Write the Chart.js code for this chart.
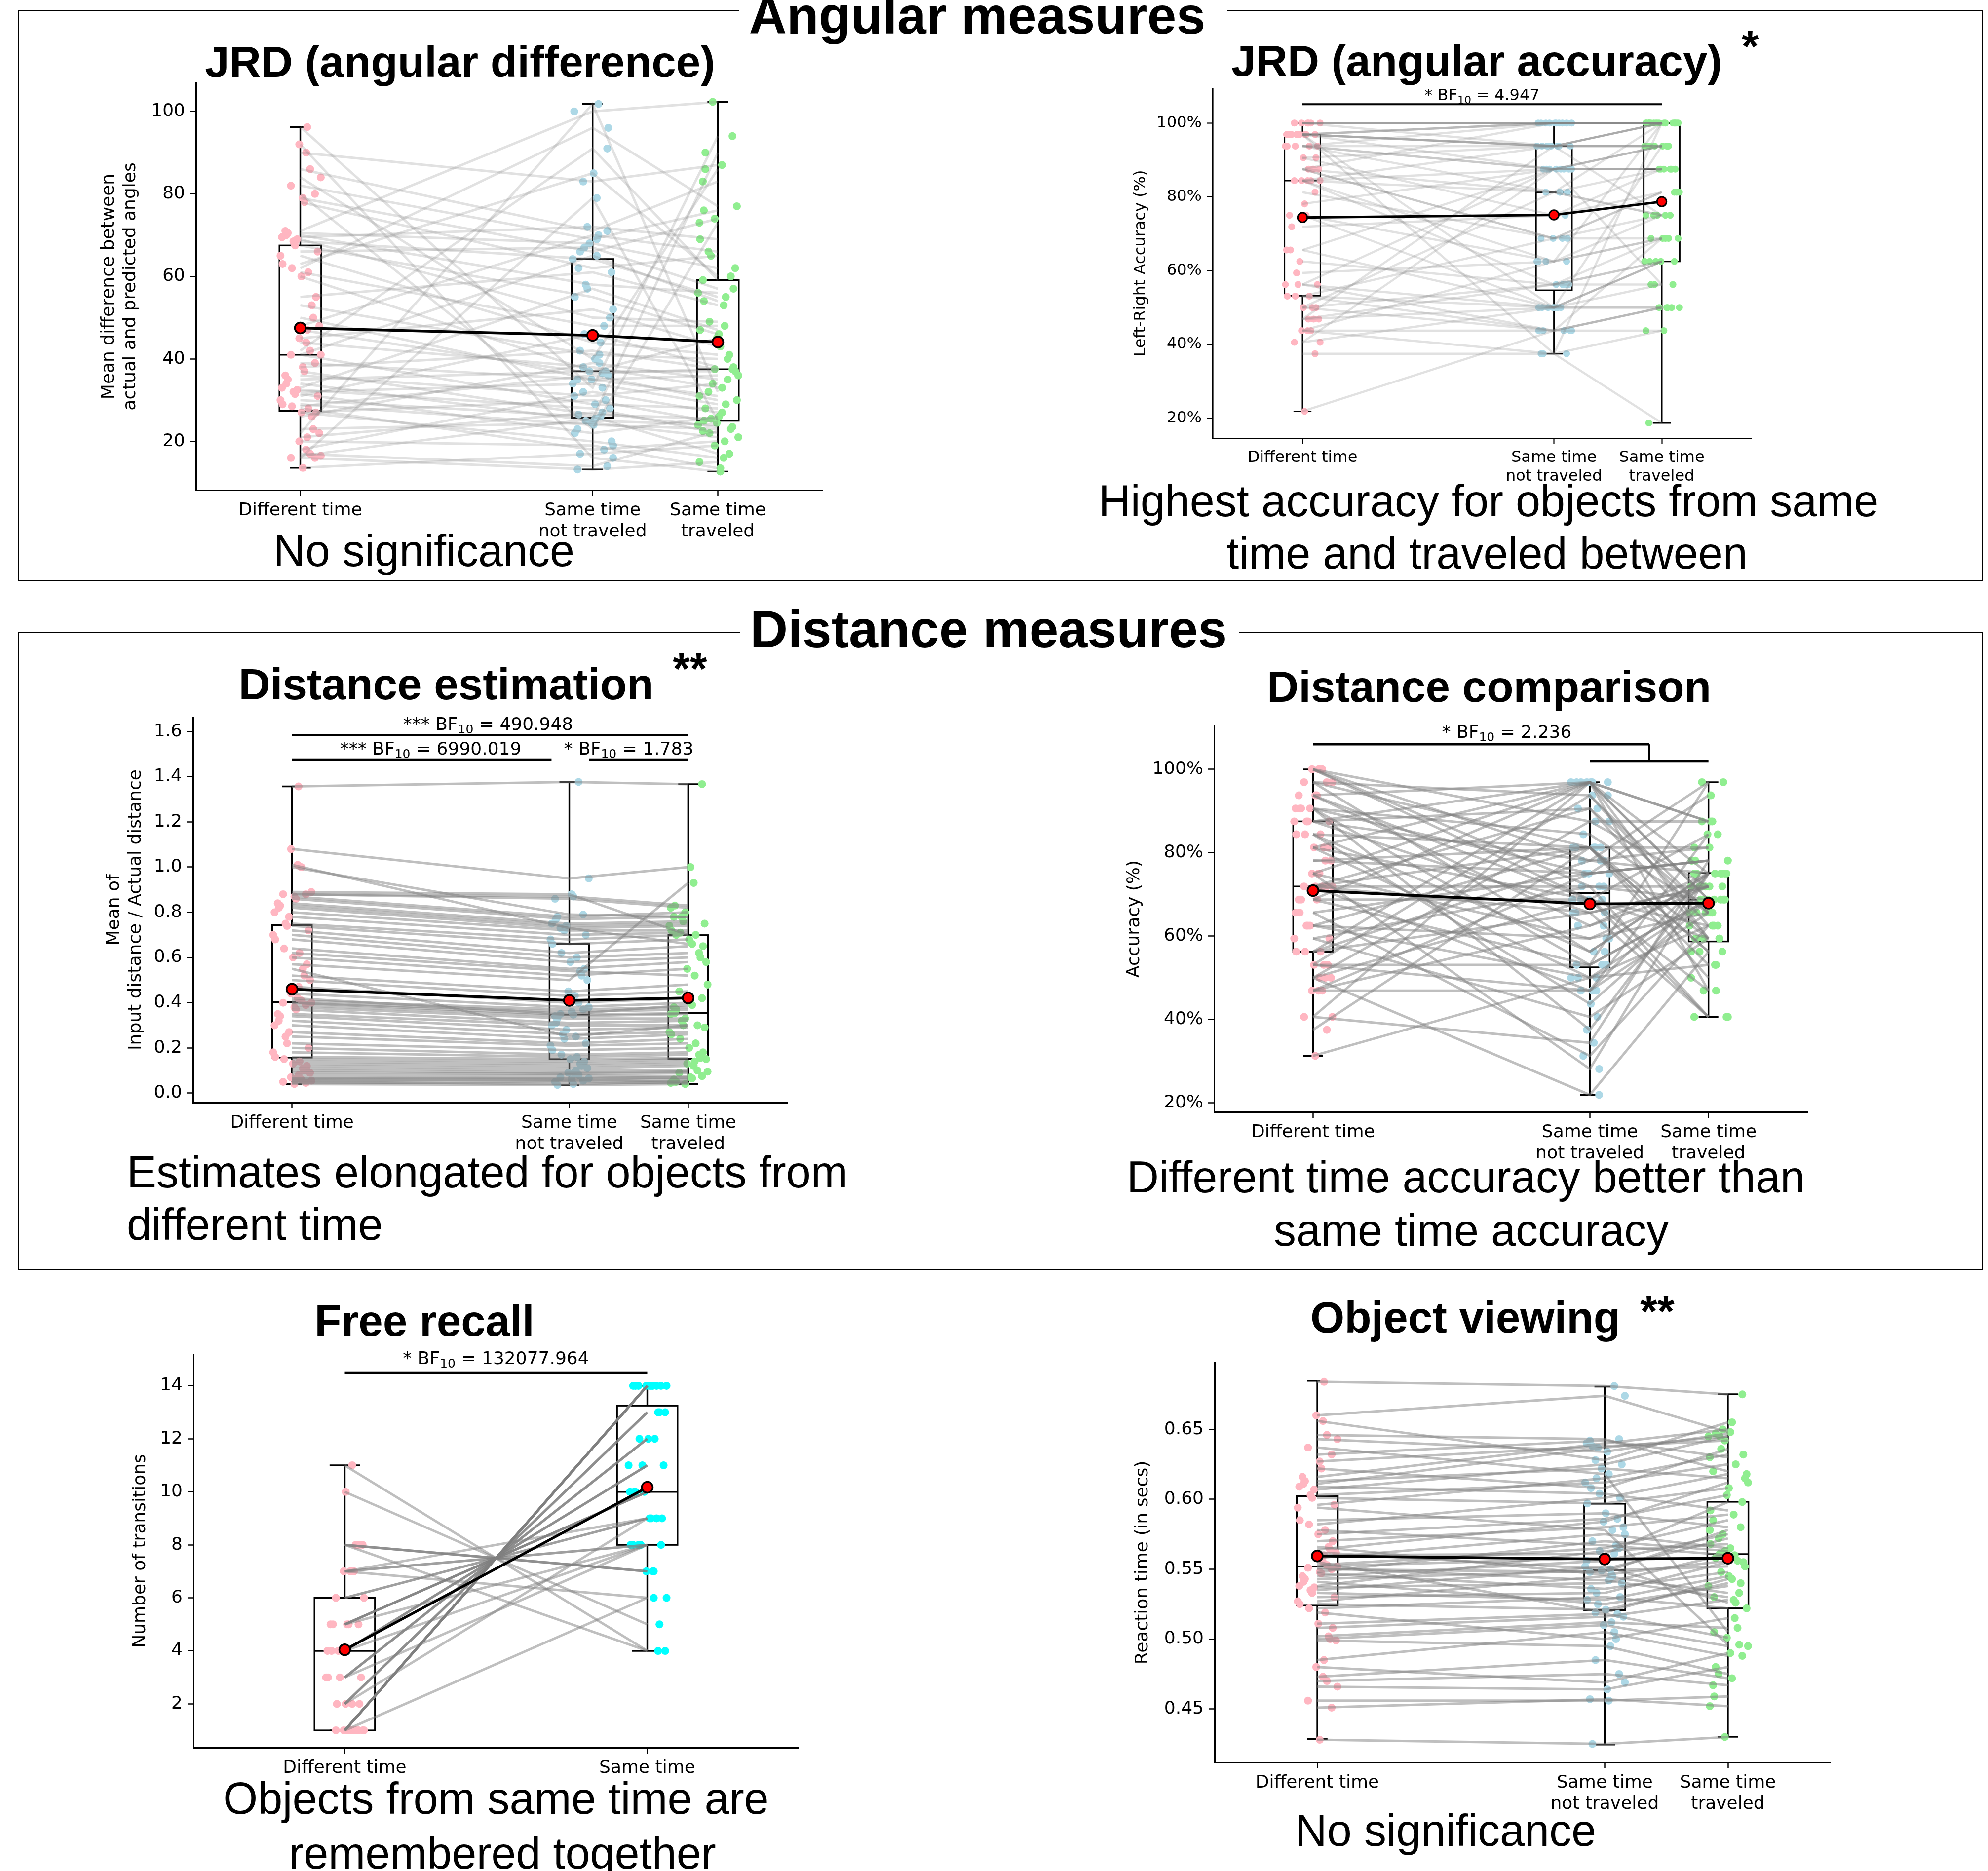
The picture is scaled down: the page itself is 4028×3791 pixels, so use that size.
<!DOCTYPE html>
<html lang="en">
<head>
<meta charset="UTF-8">
<title>Angular and distance measures</title>
<script src="https://cdn.jsdelivr.net/npm/chart.js"></script>
<style>
    html, body { margin: 0; padding: 0; background: #fff; }
    body { position: relative; width: 4028px; height: 3791px; overflow: hidden; }
    .frame { position: absolute; border: 2px solid #000; border-top: none; box-sizing: border-box; }
    .seg { position: absolute; height: 2px; background: #000; }
    .txt { position: absolute; white-space: nowrap; line-height: 1; color: #000;
           font-family: "Liberation Sans", Arial, sans-serif; }
    .plot { position: absolute; }
</style>
</head>
<body>

<!-- section frames, top edge split around the headings -->
<div class="frame" style="left:36px;top:22px;width:3982px;height:1155px"></div>
<div class="seg" style="left:36px;top:21px;width:1462px"></div>
<div class="seg" style="left:2487px;top:21px;width:1531px"></div>
<div class="frame" style="left:36px;top:1282px;width:3982px;height:1291px"></div>
<div class="seg" style="left:36px;top:1281px;width:1463px"></div>
<div class="seg" style="left:2511px;top:1281px;width:1507px"></div>

<script>
// ---------- data ----------
const CATS3 = [['Different time'], ['Same time', 'not traveled'], ['Same time', 'traveled']];
const CATS2 = [['Different time'], ['Same time']];

// JRD angular difference (deg), one entry per participant
const jrdDiffDT = [13.6, 16, 16, 16.5, 17, 18, 20, 21, 22, 23, 26, 27, 27, 28, 28.5, 29, 30, 31, 31.5, 32, 32.5, 33, 34, 35, 36, 37, 38, 39, 41, 41, 42, 44, 45, 47, 48, 50, 53, 55, 60, 61, 62, 63, 65, 66, 67.5, 68.5, 69, 69.5, 70, 70.5, 71, 78, 79, 80, 82, 84, 86, 90, 92, 96.2];
const jrdDiffNT = [17, 13.2, 79, 25.5, 14, 32, 19, 27, 101.8, 24.5, 39, 20, 30, 18, 36, 24, 26, 46, 22, 34, 28, 57, 25, 37, 31, 26.5, 42, 35, 65, 29, 91, 38, 52, 36.5, 70, 35, 41, 61, 37, 48, 96, 85, 44, 67, 55, 64.2, 50, 72, 58, 68, 100, 62, 66, 23, 69, 40, 71, 83, 16, 33];
const jrdDiffTR = [19, 15, 25, 90, 22.5, 27, 13.5, 23.5, 32, 21, 35, 16, 24.5, 20, 30, 23, 17, 38, 26, 29, 22, 47, 24, 37, 34, 25.5, 37.5, 31, 54, 28, 59.1, 33, 43, 37.5, 66, 36, 40, 53, 45, 48, 77, 60, 41, 57, 46, 55, 49, 69, 56, 62, 102.3, 65, 74, 73, 76, 86, 83, 87, 12.7, 94];
const jrdDiffBox = [[13.6, 27.4, 41.0, 67.5, 96.2], [13.2, 25.7, 37.0, 64.2, 101.8], [12.7, 25.0, 37.5, 59.1, 102.3]];
const jrdDiffMean = [47.5, 45.7, 44.1];
const jrdDiffTicks = [20, 40, 60, 80, 100];

// JRD left-right accuracy (%)
const jrdAccDT = [21.9, 37.5, 40.6, 40.6, 43.75, 43.75, 43.75, 46.9, 46.9, 46.9, 50, 50, 50, 53.1, 53.1, 53.1, 56.25, 56.25, 56.25, 59.4, 62.5, 65.6, 65.6, 71.9, 75, 75, 78.1, 81.25, 84.4, 84.4, 84.4, 84.4, 84.4, 87.5, 87.5, 87.5, 87.5, 90.6, 90.6, 93.75, 93.75, 93.75, 93.75, 93.75, 96.9, 96.9, 96.9, 96.9, 96.9, 96.9, 96.9, 96.9, 96.9, 96.9, 100, 100, 100, 100, 100, 100];
const jrdAccNT = [43.75, 37.5, 50, 87.5, 37.5, 62.5, 43.75, 56.25, 93.75, 50, 81.25, 43.75, 56.25, 43.75, 68.75, 50, 50, 87.5, 43.75, 62.5, 56.25, 87.5, 50, 75, 62.5, 50, 87.5, 68.75, 93.75, 56.25, 62.5, 81.25, 87.5, 68.75, 100, 68.75, 81.25, 93.75, 75, 87.5, 81.25, 100, 87.5, 93.75, 50, 93.75, 87.5, 100, 93.75, 93.75, 100, 93.75, 37.5, 100, 93.75, 100, 100, 100, 100, 100];
const jrdAccTR = [50, 43.75, 62.5, 56.25, 18.75, 68.75, 43.75, 62.5, 75, 50, 75, 50, 62.5, 50, 68.75, 56.25, 50, 87.5, 68.75, 68.75, 56.25, 93.75, 62.5, 81.25, 75, 62.5, 87.5, 75, 93.75, 68.75, 100, 75, 87.5, 81.25, 100, 81.25, 87.5, 93.75, 87.5, 93.75, 100, 100, 87.5, 100, 93.75, 93.75, 93.75, 100, 93.75, 100, 100, 100, 100, 100, 100, 100, 100, 100, 100, 100];
const jrdAccBox = [[21.9, 53.2, 84.4, 96.9, 100], [37.5, 54.7, 81.25, 93.75, 100], [18.75, 62.5, 87.5, 100, 100]];
const jrdAccMean = [74.4, 75.1, 78.7];
const jrdAccTicks = [20, 40, 60, 80, 100];
const jrdAccBF = ['*', '4.947'];

// distance estimation (input / actual)
const distEstDT = [0.04, 0.045, 0.05, 0.055, 0.06, 0.065, 0.07, 0.08, 0.09, 0.10, 0.11, 0.12, 0.13, 0.14, 0.15, 0.16, 0.18, 0.20, 0.22, 0.25, 0.27, 0.30, 0.32, 0.34, 0.35, 0.37, 0.38, 0.39, 0.40, 0.40, 0.41, 0.42, 0.44, 0.47, 0.50, 0.52, 0.55, 0.57, 0.60, 0.62, 0.64, 0.68, 0.70, 0.72, 0.74, 0.75, 0.78, 0.80, 0.82, 0.83, 0.84, 0.86, 0.87, 0.88, 0.88, 0.89, 1.00, 1.01, 1.08, 1.357];
const distEstNT = [0.036, 0.05, 0.04, 0.06, 0.055, 0.07, 0.065, 0.08, 0.085, 0.09, 0.10, 0.11, 0.12, 0.13, 0.14, 0.15, 0.16, 0.17, 0.19, 0.21, 0.22, 0.24, 0.26, 0.28, 0.30, 0.31, 0.33, 0.34, 0.347, 0.36, 0.37, 0.35, 0.38, 0.40, 0.43, 0.45, 0.25, 0.50, 0.52, 0.54, 0.55, 0.58, 0.60, 0.62, 0.66, 0.68, 0.70, 0.72, 0.73, 0.74, 0.75, 0.77, 0.78, 0.86, 0.87, 0.88, 0.79, 0.73, 0.95, 1.377];
const distEstTR = [0.04, 0.045, 0.05, 0.05, 0.06, 0.065, 0.07, 0.075, 0.09, 0.095, 0.10, 0.12, 0.13, 0.14, 0.15, 0.155, 0.17, 0.18, 0.20, 0.22, 0.24, 0.26, 0.27, 0.29, 0.30, 0.32, 0.33, 0.35, 0.354, 0.37, 0.38, 0.39, 0.40, 0.42, 0.45, 0.48, 0.30, 0.93, 0.55, 0.52, 0.58, 0.60, 0.62, 0.65, 0.68, 0.70, 0.71, 0.72, 0.74, 0.75, 0.76, 0.78, 0.80, 0.82, 0.83, 0.70, 0.78, 0.66, 1.00, 1.367];
const distEstBox = [[0.040, 0.157, 0.403, 0.743, 1.357], [0.036, 0.150, 0.347, 0.660, 1.377], [0.040, 0.151, 0.354, 0.699, 1.367]];
const distEstMean = [0.460, 0.410, 0.421];
const distEstTicks = [0, 0.2, 0.4, 0.6, 0.8, 1.0, 1.2, 1.4, 1.6];
const distEstBF = [['***', '490.948'], ['***', '6990.019'], ['*', '1.783']];

// distance comparison accuracy (%)
const distCmpDT = [31.25, 37.5, 40.6, 40.6, 46.9, 46.9, 46.9, 50, 50, 50, 53.1, 53.1, 53.1, 56.25, 56.25, 56.25, 59.4, 59.4, 62.5, 62.5, 62.5, 65.6, 65.6, 68.75, 68.75, 68.75, 71.9, 71.9, 71.9, 71.9, 71.9, 75, 75, 75, 78.1, 78.1, 81.25, 81.25, 81.25, 84.4, 84.4, 84.4, 87.5, 87.5, 87.5, 87.5, 90.6, 90.6, 90.6, 90.6, 93.75, 93.75, 93.75, 96.9, 96.9, 96.9, 100, 100, 100, 100];
const distCmpNT = [50, 81.25, 34.4, 96.9, 62.5, 46.9, 75, 21.9, 87.5, 68.75, 46.9, 93.75, 53.1, 78.1, 65.6, 96.9, 40.6, 71.9, 81.25, 50, 59.4, 75, 31.25, 96.9, 68.75, 53.1, 90.6, 65.6, 81.25, 46.9, 71.9, 96.9, 59.4, 28.1, 81.25, 75, 50, 96.9, 68.75, 81.25, 56.25, 43.75, 90.6, 78.1, 65.6, 96.9, 53.1, 75, 84.4, 37.5, 68.75, 96.9, 62.5, 81.25, 56.25, 93.75, 78.1, 68.75, 87.5, 71.9];
const distCmpTR = [68.75, 50, 78.1, 59.4, 75, 65.6, 93.75, 56.25, 71.9, 40.6, 84.4, 62.5, 68.75, 75, 40.6, 75, 59.4, 68.75, 81.25, 53.1, 71.9, 78.1, 62.5, 68.75, 46.9, 96.9, 65.6, 71.9, 59.4, 75, 40.6, 87.5, 65.6, 75, 56.25, 78.1, 62.5, 68.75, 84.4, 53.1, 75, 68.75, 59.4, 96.9, 71.9, 46.9, 68.75, 78.1, 65.6, 75, 59.4, 87.5, 71.9, 56.25, 75, 65.6, 81.25, 62.5, 87.5, 71.9];
const distCmpBox = [[31.25, 56.25, 71.9, 87.5, 100], [21.9, 52.5, 70.3, 81.25, 96.9], [40.6, 58.7, 68.75, 75.1, 96.9]];
const distCmpMean = [70.9, 67.7, 67.9];
const distCmpTicks = [20, 40, 60, 80, 100];
const distCmpBF = ['*', '2.236'];

// free recall, number of transitions
const freeDT = [1, 1, 1, 1, 1, 1, 1, 1, 1, 1, 1, 2, 2, 2, 2, 3, 3, 3, 3, 4, 4, 4, 4, 5, 5, 5, 5, 5, 6, 6, 7, 7, 7, 7, 8, 8, 8, 8, 10, 11];
const freeSame = [14, 14, 14, 14, 14, 14, 14, 14, 14, 14, 6, 13, 13, 13, 9, 12, 12, 12, 8, 11, 11, 11, 8, 10, 10, 10, 10, 8, 9, 9, 8, 8, 6, 9, 7, 7, 7, 4, 5, 4];
const freeBox = [[1, 1, 4, 6, 11], [4, 8, 10, 13.25, 14]];
const freeMean = [4.04, 10.17];
const freeTicks = [2, 4, 6, 8, 10, 12, 14];
const freeBF = ['*', '132077.964'];

// object viewing reaction time (s)
const viewDT = [0.428, 0.451, 0.456, 0.466, 0.470, 0.473, 0.480, 0.485, 0.499, 0.500, 0.502, 0.508, 0.511, 0.519, 0.522, 0.525, 0.527, 0.530, 0.533, 0.535, 0.537, 0.538, 0.541, 0.543, 0.545, 0.547, 0.548, 0.550, 0.551, 0.552, 0.553, 0.555, 0.558, 0.560, 0.562, 0.564, 0.566, 0.570, 0.575, 0.578, 0.582, 0.585, 0.594, 0.596, 0.601, 0.603, 0.607, 0.609, 0.611, 0.613, 0.616, 0.622, 0.627, 0.632, 0.637, 0.643, 0.646, 0.656, 0.660, 0.684];
const viewNT = [0.425, 0.457, 0.456, 0.464, 0.475, 0.485, 0.469, 0.505, 0.495, 0.510, 0.512, 0.516, 0.518, 0.500, 0.530, 0.521, 0.545, 0.533, 0.528, 0.552, 0.540, 0.563, 0.525, 0.549, 0.556, 0.536, 0.570, 0.548, 0.542, 0.558, 0.565, 0.519, 0.575, 0.561, 0.550, 0.584, 0.546, 0.580, 0.586, 0.567, 0.601, 0.590, 0.578, 0.615, 0.597, 0.612, 0.625, 0.604, 0.637, 0.622, 0.640, 0.608, 0.638, 0.642, 0.618, 0.634, 0.643, 0.628, 0.674, 0.681];
const viewTR = [0.430, 0.452, 0.459, 0.480, 0.467, 0.472, 0.490, 0.488, 0.475, 0.495, 0.508, 0.528, 0.501, 0.515, 0.522, 0.540, 0.533, 0.555, 0.545, 0.526, 0.561, 0.568, 0.538, 0.552, 0.575, 0.548, 0.563, 0.578, 0.530, 0.558, 0.585, 0.543, 0.565, 0.598, 0.572, 0.612, 0.556, 0.589, 0.603, 0.560, 0.618, 0.580, 0.496, 0.632, 0.608, 0.625, 0.645, 0.592, 0.645, 0.615, 0.650, 0.636, 0.642, 0.630, 0.505, 0.647, 0.620, 0.655, 0.648, 0.675];
const viewBox = [[0.4285, 0.524, 0.552, 0.6023, 0.6847], [0.4246, 0.5207, 0.5493, 0.5968, 0.6806], [0.4301, 0.522, 0.5608, 0.5982, 0.6751]];
const viewMean = [0.5594, 0.5572, 0.5578];
const viewTicks = [0.45, 0.50, 0.55, 0.60, 0.65];

// ---------- styling / layout ----------
Chart.defaults.font.family = "'DejaVu Sans', sans-serif";
Chart.defaults.color = '#000';

const POS3 = [0, 1.4, 2.0];
const POS2 = [0, 1];
const COL3 = ['#ffb6c1', '#add8e6', '#90ee90'];
const COL2 = ['#ffb6c1', '#00ffff'];
// horizontal jitter of the strip points (fraction of spread)
const JIT = [0.12, -0.85, 0.47, -0.33, 0.91, -0.6, 0.05, 0.7, -0.95, 0.28, -0.15, 0.62, -0.72,
             0.38, -0.45, 0.83, -0.05, -0.88, 0.55, 0.2, -0.4, 0.98, -0.25, 0.33, -0.67, 0.75];

const pct = v => v + '%';

const panels = [
    { area: [397, 168, 1666, 993], pos: POS3, xr: [-0.5, 2.5], cats: CATS3, colors: COL3,
      series: [jrdDiffDT, jrdDiffNT, jrdDiffTR], box: jrdDiffBox, means: jrdDiffMean,
      yr: [8.2, 106.9], yticks: jrdDiffTicks, fmt: v => v,
      ytitle: ['Mean difference between', 'actual and predicted angles'], ytx: 221,
      lineColor: 'rgba(128,128,128,0.24)', spread: 0.1, font: 36, k: 1, brackets: [] },
    { area: [2457, 179, 3549, 888], pos: POS3, xr: [-0.5, 2.5], cats: CATS3, colors: COL3,
      series: [jrdAccDT, jrdAccNT, jrdAccTR], box: jrdAccBox, means: jrdAccMean,
      yr: [14.6, 109.4], yticks: jrdAccTicks, fmt: pct,
      ytitle: 'Left-Right Accuracy (%)', ytx: 2312,
      lineColor: 'rgba(128,128,128,0.24)', spread: 0.1, font: 32, k: 0.88,
      brackets: [{ segs: [[0, 105.1, 2, 105.1]], tx: 1.0, ty: 105.1, dy: 8, bf: jrdAccBF }] },
    { area: [391, 1453, 1595, 2234], pos: POS3, xr: [-0.5, 2.5], cats: CATS3, colors: COL3,
      series: [distEstDT, distEstNT, distEstTR], box: distEstBox, means: distEstMean,
      yr: [-0.042, 1.664], yticks: distEstTicks, fmt: v => v.toFixed(1),
      ytitle: ['Mean of', 'Input distance / Actual distance'], ytx: 232,
      lineColor: 'rgba(128,128,128,0.5)', spread: 0.1, font: 36, k: 1,
      brackets: [
          { segs: [[0, 1.585, 2, 1.585]], tx: 0.99, ty: 1.585, dy: 10, bf: distEstBF[0] },
          { segs: [[0, 1.476, 1.31, 1.476]], tx: 0.70, ty: 1.476, dy: 10, bf: distEstBF[1] },
          { segs: [[1.5, 1.476, 2, 1.476]], tx: 1.70, ty: 1.476, dy: 10, bf: distEstBF[2] }] },
    { area: [2460, 1471, 3662, 2253], pos: POS3, xr: [-0.5, 2.5], cats: CATS3, colors: COL3,
      series: [distCmpDT, distCmpNT, distCmpTR], box: distCmpBox, means: distCmpMean,
      yr: [17.8, 110.4], yticks: distCmpTicks, fmt: pct,
      ytitle: 'Accuracy (%)', ytx: 2299,
      lineColor: 'rgba(128,128,128,0.5)', spread: 0.1, font: 36, k: 1,
      brackets: [{ segs: [[0, 106, 1.7, 106], [1.7, 106, 1.7, 102], [1.4, 102, 2, 102]],
                   tx: 0.98, ty: 106, dy: 13, bf: distCmpBF }] },
    { area: [392, 2744, 1618, 3541], pos: POS2, xr: [-0.5, 1.5], cats: CATS2, colors: COL2,
      series: [freeDT, freeSame], box: freeBox, means: freeMean,
      yr: [0.35, 15.19], yticks: freeTicks, fmt: v => v,
      ytitle: 'Number of transitions', ytx: 285,
      lineColor: 'rgba(128,128,128,0.5)', spread: 0.065, font: 36, k: 1,
      brackets: [{ segs: [[0, 14.5, 1, 14.5]], tx: 0.5, ty: 14.5, dy: 17, bf: freeBF }] },
    { area: [2461, 2761, 3709, 3571], pos: POS3, xr: [-0.5, 2.5], cats: CATS3, colors: COL3,
      series: [viewDT, viewNT, viewTR], box: viewBox, means: viewMean,
      yr: [0.4118, 0.6977], yticks: viewTicks, fmt: v => v.toFixed(2),
      ytitle: 'Reaction time (in secs)', ytx: 2316,
      lineColor: 'rgba(128,128,128,0.5)', spread: 0.1, font: 36, k: 1, brackets: [] }
];

// box plots drawn through the chart scales, below the data
function boxPlugin(p) {
    return {
        id: 'boxes',
        beforeDatasetsDraw(chart) {
            const { ctx, scales: { x, y } } = chart;
            ctx.save();
            ctx.strokeStyle = '#000';
            ctx.lineWidth = 3.4 * p.k;
            const seg = (x1, y1, x2, y2) => { ctx.beginPath(); ctx.moveTo(x1, y1); ctx.lineTo(x2, y2); ctx.stroke(); };
            p.box.forEach((s, i) => {
                const c = p.pos[i];
                const xl = x.getPixelForValue(c - 0.1), xr = x.getPixelForValue(c + 0.1);
                const cl = x.getPixelForValue(c - 0.05), cr = x.getPixelForValue(c + 0.05);
                const xc = x.getPixelForValue(c);
                const [lo, q1, med, q3, hi] = s.map(v => y.getPixelForValue(v));
                seg(xc, q1, xc, lo);
                seg(xc, q3, xc, hi);
                seg(cl, lo, cr, lo);
                seg(cl, hi, cr, hi);
                ctx.strokeRect(xl, q3, xr - xl, q1 - q3);
                seg(xl, med, xr, med);
            });
            ctx.restore();
        }
    };
}

// significance brackets with Bayes factor text
function bracketPlugin(p) {
    return {
        id: 'brackets',
        afterDatasetsDraw(chart) {
            const { ctx, scales: { x, y } } = chart;
            const size = p.font;
            ctx.save();
            ctx.strokeStyle = '#000';
            ctx.fillStyle = '#000';
            ctx.lineWidth = 4.5 * p.k;
            p.brackets.forEach(b => {
                b.segs.forEach(s => {
                    ctx.beginPath();
                    ctx.moveTo(x.getPixelForValue(s[0]), y.getPixelForValue(s[1]));
                    ctx.lineTo(x.getPixelForValue(s[2]), y.getPixelForValue(s[3]));
                    ctx.stroke();
                });
                const main = size + "px 'DejaVu Sans'";
                const sub = Math.round(size * 0.7) + "px 'DejaVu Sans'";
                const a = b.bf[0] + ' BF', n = '10', c = ' = ' + b.bf[1];
                ctx.font = main;
                const wa = ctx.measureText(a).width, wc = ctx.measureText(c).width;
                ctx.font = sub;
                const wn = ctx.measureText(n).width;
                let tx = x.getPixelForValue(b.tx) - (wa + wn + wc) / 2;
                const base = y.getPixelForValue(b.ty) - b.dy;
                ctx.textAlign = 'left';
                ctx.textBaseline = 'alphabetic';
                ctx.font = main; ctx.fillText(a, tx, base); tx += wa;
                ctx.font = sub; ctx.fillText(n, tx, base + size * 0.2); tx += wn;
                ctx.font = main; ctx.fillText(c, tx, base);
            });
            ctx.restore();
        }
    };
}

function makePanel(p) {
    const [L, T, R, B] = p.area;
    const YW = 260, XH = 130, PT = 80, PR = 60;
    const cl = L - YW, ct = T - PT, cw = R + PR - cl, ch = B + XH - ct;
    const holder = document.createElement('div');
    holder.className = 'plot';
    holder.style.left = cl + 'px';
    holder.style.top = ct + 'px';
    const cv = document.createElement('canvas');
    cv.width = cw; cv.height = ch;
    cv.style.width = cw + 'px'; cv.style.height = ch + 'px';
    holder.appendChild(cv);
    document.body.appendChild(holder);

    const k = p.k;
    const datasets = [];
    // group means on top
    datasets.push({
        data: p.pos.map((x, i) => ({ x, y: p.means[i] })),
        showLine: true, borderColor: '#000', borderWidth: 5.5 * k,
        pointRadius: 11 * k, pointBackgroundColor: '#ff0000', pointBorderColor: '#000',
        pointBorderWidth: 3.5 * k, order: 0
    });
    // one grey line per participant
    const n = p.series[0].length;
    for (let i = 0; i < n; i++) {
        datasets.push({
            data: p.series.map((s, j) => ({ x: p.pos[j], y: s[i] })),
            showLine: true, borderColor: p.lineColor, borderWidth: 5 * k,
            pointRadius: 0, order: 1
        });
    }
    // jittered strip points
    p.series.forEach((s, j) => {
        datasets.push({
            data: s.map((v, i) => ({ x: p.pos[j] + JIT[(i * 7 + j * 5) % JIT.length] * p.spread, y: v })),
            pointRadius: 8 * k, pointBackgroundColor: p.colors[j], pointBorderWidth: 0,
            showLine: false, order: 2
        });
    });

    const axisGrid = { display: true, drawOnChartArea: false, drawTicks: true, tickLength: 12,
                       tickWidth: 2.5 * k, color: '#000' };
    const tfont = p.font;
    new Chart(cv, {
        type: 'scatter',
        data: { datasets },
        options: {
            responsive: false,
            animation: false,
            events: [],
            layout: { padding: { top: PT, right: PR, left: 0, bottom: 0 } },
            plugins: { legend: { display: false }, tooltip: { enabled: false } },
            scales: {
                x: {
                    type: 'linear', min: p.xr[0], max: p.xr[1],
                    afterBuildTicks: s => { s.ticks = p.pos.map(v => ({ value: v })); },
                    afterFit: s => { s.height = XH; },
                    ticks: { autoSkip: false, maxRotation: 0, minRotation: 0, padding: 8,
                             font: { size: p.font }, color: '#000',
                             callback: (v, i) => p.cats[i] },
                    grid: axisGrid,
                    border: { display: true, color: '#000', width: 3 * k }
                },
                y: {
                    type: 'linear', min: p.yr[0], max: p.yr[1],
                    afterBuildTicks: s => { s.ticks = p.yticks.map(v => ({ value: v })); },
                    afterFit: s => { s.width = YW; },
                    ticks: { padding: 10, font: { size: p.font }, color: '#000', callback: p.fmt },
                    grid: axisGrid,
                    border: { display: true, color: '#000', width: 3 * k },
                    title: { display: true, text: p.ytitle, color: '#000',
                             font: { size: tfont, lineHeight: 1.2 },
                             padding: { top: p.ytx - cl - tfont * 0.6, bottom: 0 } }
                }
            }
        },
        plugins: [boxPlugin(p), bracketPlugin(p)]
    });
}

panels.forEach(makePanel);

// ---------- headings, titles and conclusions ----------
const pageTexts = [
    { t: 'Angular measures', x: 1980, y: 68, s: 106, b: true },
    { t: 'Distance measures', x: 2003, y: 1311, s: 106, b: true },
    { t: 'JRD (angular difference)', x: 932, y: 156, s: 89, b: true },
    { t: 'JRD (angular accuracy)', x: 2992, y: 154, s: 89, b: true },
    { t: '*', x: 3546, y: 124, s: 89, b: true },
    { t: 'Distance estimation', x: 904, y: 1417, s: 89, b: true },
    { t: '**', x: 1398, y: 1385, s: 89, b: true },
    { t: 'Distance comparison', x: 3017, y: 1422, s: 89, b: true },
    { t: 'Free recall', x: 860, y: 2707, s: 89, b: true },
    { t: 'Object viewing', x: 2969, y: 2700, s: 89, b: true },
    { t: '**', x: 3358, y: 2687, s: 89, b: true },
    { t: 'No significance', x: 859, y: 1147, s: 90 },
    { t: 'Highest accuracy for objects from same', x: 3016, y: 1046, s: 90 },
    { t: 'time and traveled between', x: 3013, y: 1152, s: 90 },
    { t: 'Estimates elongated for objects from', x: 257, y: 2406, s: 90, left: true },
    { t: 'different time', x: 257, y: 2512, s: 90, left: true },
    { t: 'Different time accuracy better than', x: 2970, y: 2416, s: 90 },
    { t: 'same time accuracy', x: 2981, y: 2524, s: 90 },
    { t: 'Objects from same time are', x: 1005, y: 3675, s: 90 },
    { t: 'remembered together', x: 1018, y: 3786, s: 90 },
    { t: 'No significance', x: 2929, y: 3740, s: 90 }
];

pageTexts.forEach(t => {
    const d = document.createElement('div');
    d.className = 'txt';
    d.textContent = t.t;
    d.style.fontSize = t.s + 'px';
    d.style.fontWeight = t.b ? 'bold' : 'normal';
    d.style.left = t.x + 'px';
    d.style.top = (t.y - 0.847 * t.s) + 'px';
    if (!t.left) d.style.transform = 'translateX(-50%)';
    document.body.appendChild(d);
});
</script>
</body>
</html>
